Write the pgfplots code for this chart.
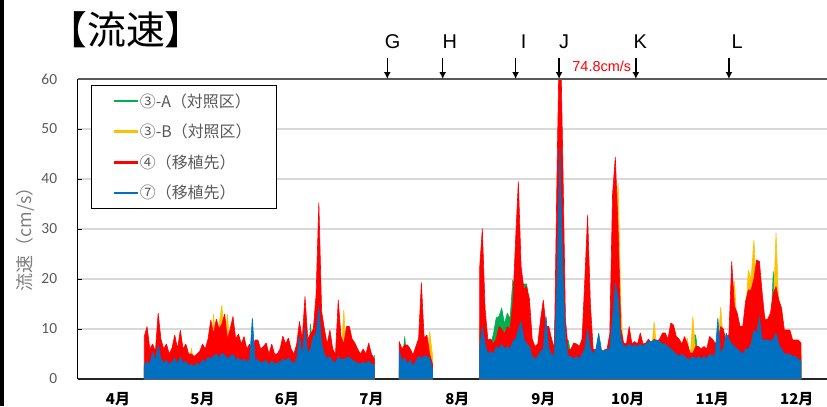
\documentclass[border=0pt]{standalone}
\usepackage{fontspec}
\setmainfont{Carlito}
\newfontfamily\cjk{Noto Sans CJK JP}
\newfontfamily\arial{Liberation Sans}
\usepackage{pgfplots}
\pgfplotsset{compat=1.18}
\usepackage{pgfplotstable}
\usetikzlibrary{arrows.meta}

\definecolor{cA}{HTML}{00B050}
\definecolor{cB}{HTML}{FFC000}
\definecolor{cR}{HTML}{FF0000}
\definecolor{cS}{HTML}{0070C0}
\definecolor{c59}{HTML}{595959}
\definecolor{c80}{HTML}{7F7F7F}
\definecolor{cgrid}{HTML}{D9D9D9}

% d = days from 1 April; A = 3-A, B = 3-B, R = 4, S = 7 (cm/s, daily peak)
\pgfplotstableread{
d A B R S
24 2.1 3.0 8.5 2.8
25 2.5 3.5 10.5 3.5
26 1.8 2.6 6.0 3.0
27 2.4 3.2 7.0 5.5
28 2.0 2.8 5.5 3.6
29 3.0 4.0 13.2 6.8
30 2.2 3.1 8.0 4.0
31 1.7 2.4 6.0 3.2
32 2.0 2.9 7.0 3.8
33 1.6 2.2 5.0 2.9
34 1.9 2.7 6.2 3.4
35 2.6 3.5 8.8 4.2
36 1.8 2.5 6.0 3.0
37 2.5 3.4 9.8 4.5
38 1.9 2.6 6.0 3.1
39 2.1 3.0 7.0 3.6
40 1.5 2.4 5.0 2.7
41 1.8 6.2 5.0 3.0
42 1.4 2.6 4.5 2.5
43 1.6 3.0 5.0 3.2
44 1.7 3.1 5.5 2.8
45 2.0 3.5 7.0 3.9
46 1.8 3.2 6.0 3.3
47 2.2 4.0 8.0 4.4
48 2.8 5.0 11.8 4.0
49 2.6 13.0 9.0 4.6
50 2.9 6.0 12.0 5.0
51 2.5 11.0 10.0 4.2
52 2.7 14.8 11.0 5.2
53 3.0 7.0 13.0 4.8
54 2.3 13.0 8.0 4.0
55 2.5 6.0 10.0 4.5
56 2.8 5.5 12.5 5.0
57 2.2 4.0 8.0 3.8
58 2.4 4.2 9.0 4.2
59 2.0 3.5 7.0 3.6
60 2.3 4.0 8.5 4.0
61 1.9 3.0 6.0 3.4
62 2.0 3.4 7.0 3.8
63 1.8 3.0 6.0 12.2
64 2.1 3.5 7.8 3.6
65 2.2 3.6 7.8 3.9
66 1.8 3.0 6.0 3.2
67 1.9 3.1 6.5 3.5
68 2.0 3.3 7.2 3.7
69 1.5 2.5 5.0 2.8
70 2.0 3.2 7.0 3.6
71 1.6 2.6 5.0 3.0
72 1.6 2.6 5.0 3.2
73 1.8 2.9 6.0 3.4
74 2.3 3.5 8.6 4.0
75 2.0 3.2 7.0 3.6
76 2.2 3.4 8.2 4.2
77 1.8 3.0 6.0 3.5
78 1.6 2.7 5.0 3.0
79 2.0 3.2 7.0 4.0
80 3.0 4.5 11.5 8.6
81 2.4 3.8 8.0 4.6
82 4.0 6.0 16.5 10.2
83 2.6 4.0 8.0 5.0
84 11.0 5.0 9.0 6.0
85 3.0 5.5 10.0 8.5
86 4.5 7.0 16.8 9.0
87 9.0 28.5 35.3 14.5
88 3.5 6.0 13.5 7.0
89 2.8 4.5 10.0 5.0
90 2.0 3.5 7.0 4.0
91 2.6 4.0 9.8 4.5
92 1.8 3.0 6.0 3.5
93 1.6 2.7 5.0 3.2
94 3.0 5.0 15.8 4.5
95 2.4 3.8 8.5 3.8
96 2.2 13.8 7.0 4.0
97 2.8 4.5 10.5 4.2
98 2.8 4.5 10.5 4.4
99 2.3 3.5 8.0 3.8
100 2.0 3.2 7.2 3.5
101 1.8 2.8 6.0 3.2
102 1.6 2.5 5.0 3.0
103 1.8 2.8 6.0 3.4
104 1.5 2.4 5.0 3.0
105 2.1 3.4 7.2 3.6
106 1.6 2.5 5.0 3.0
107 4.8 3.0 4.0 2.8
116 2.0 3.0 7.5 5.8
117 2.5 3.2 6.0 3.5
118 8.5 3.5 6.8 4.2
119 2.2 3.0 6.8 3.0
120 2.0 2.8 6.0 3.8
121 1.8 2.5 4.8 2.6
122 2.1 3.0 6.5 3.5
123 2.5 3.5 8.1 4.6
124 3.5 6.0 19.3 4.0
125 2.6 3.8 8.2 4.6
126 2.7 4.0 8.8 4.5
127 2.0 9.5 5.0 4.2
128 1.5 4.8 3.0 1.8
145 8.0 10.0 22.0 6.0
146 12.0 15.0 30.1 10.5
147 8.0 9.0 14.0 7.0
148 6.0 5.0 7.8 5.0
149 7.0 5.5 8.0 5.5
150 9.0 5.0 7.0 5.0
151 12.2 6.0 8.0 6.5
152 12.5 7.0 10.5 6.0
153 14.2 7.5 10.0 7.0
154 11.0 6.5 9.0 6.0
155 13.2 7.0 10.5 6.5
156 12.0 7.0 10.0 6.0
157 19.8 10.0 15.0 7.5
158 18.0 16.0 27.8 8.0
159 20.0 22.0 39.5 9.8
160 19.0 14.0 22.5 11.5
161 19.0 12.0 18.0 8.0
162 19.0 12.0 18.5 7.0
163 14.0 10.0 16.0 6.5
164 6.0 5.0 8.0 4.5
165 4.5 4.0 6.5 4.0
166 5.0 4.5 7.0 4.5
167 7.0 7.0 11.8 5.5
168 8.0 9.0 15.8 6.0
169 6.5 7.0 10.5 12.5
170 6.0 6.5 10.5 6.0
171 5.0 5.5 8.0 5.0
172 4.0 4.5 6.2 4.5
173 30.0 28.0 42.8 20.0
174 51.0 49.8 74.8 46.2
175 30.0 35.0 45.2 22.0
176 7.8 6.0 12.0 8.0
177 7.8 4.5 5.8 4.5
178 5.0 4.0 6.0 4.5
179 4.5 4.5 7.2 4.0
180 4.5 4.5 7.0 4.5
181 4.0 4.0 6.5 4.0
182 5.0 5.0 8.0 5.0
183 12.0 14.0 20.0 6.0
184 20.0 24.8 32.8 10.0
185 9.0 10.0 15.0 6.0
186 4.0 4.0 6.0 5.0
187 4.0 4.0 5.8 6.0
188 4.5 4.5 7.0 9.2
189 3.5 3.5 5.0 5.8
190 4.0 4.0 5.8 5.5
191 4.0 4.0 6.0 6.0
192 6.0 6.0 9.0 6.0
193 27.0 25.0 37.0 12.0
194 27.0 30.0 44.4 19.2
195 20.0 39.2 30.0 16.0
196 7.0 14.5 10.0 8.0
197 4.5 5.0 7.2 6.5
198 4.5 5.0 7.0 6.5
199 6.0 7.0 10.5 7.0
200 4.5 5.0 7.0 6.5
201 4.5 5.5 7.5 6.8
202 4.5 5.0 7.0 6.5
203 5.5 6.5 9.2 7.0
204 4.5 5.0 7.0 6.5
205 4.5 5.5 7.2 7.0
206 5.0 6.0 8.0 7.5
207 4.5 5.0 7.0 7.5
208 5.0 11.5 8.0 7.8
209 4.5 5.5 7.5 7.8
210 5.0 6.0 8.0 7.5
211 5.5 7.0 9.2 7.0
212 5.5 7.0 9.2 7.0
213 5.0 6.0 8.0 6.5
214 6.5 8.0 11.2 6.0
215 6.5 7.5 10.8 5.5
216 5.0 6.0 8.5 5.0
217 5.0 6.0 8.0 4.5
218 4.5 5.0 7.0 5.0
219 5.0 6.0 8.5 4.5
220 4.5 8.2 7.0 4.0
221 3.5 4.0 5.2 4.0
222 8.8 12.5 5.2 4.5
223 8.8 5.0 6.5 4.0
224 4.0 5.0 6.5 4.5
225 4.0 4.5 6.0 4.0
226 4.0 5.0 6.5 4.5
227 4.0 4.5 6.0 4.0
228 5.0 6.0 8.5 5.0
229 5.0 6.0 8.0 4.5
230 4.5 5.5 7.2 5.0
231 4.5 5.5 7.2 12.2
232 6.5 14.4 10.5 5.0
233 6.0 7.5 10.0 6.0
234 4.5 5.5 7.2 9.2
235 5.5 6.5 9.0 8.0
236 12.0 16.0 23.5 7.0
237 9.0 19.5 14.5 6.5
238 8.0 10.0 13.2 6.0
239 6.5 8.0 10.5 5.5
240 6.5 8.0 10.5 5.0
241 9.0 12.0 15.5 6.0
242 10.0 21.8 17.8 6.0
243 10.0 20.0 17.8 7.0
244 12.0 27.8 20.0 9.8
245 13.0 18.0 23.8 9.0
246 13.0 17.0 23.5 12.5
247 10.0 13.0 17.2 7.8
248 7.0 12.5 11.8 7.8
249 7.0 9.0 12.0 7.8
250 8.0 10.0 13.2 7.5
251 21.5 14.0 17.2 8.0
252 11.0 29.2 18.5 9.2
253 9.0 14.2 15.8 7.0
254 8.0 10.0 14.2 6.0
255 6.0 7.0 9.8 5.0
256 6.0 7.0 9.8 5.0
257 6.0 7.0 9.8 5.0
258 5.0 5.5 7.8 4.5
259 6.5 5.5 7.8 4.5
260 5.0 5.5 7.8 4.0
261 4.5 5.0 7.2 3.5
}\flow

\pgfplotsset{
  flowarea/.style={sharp plot, draw=#1, fill=#1, line width=0.6bp, line join=bevel, forget plot},
  seg1/.style={restrict x to domain=20:110},
  seg2/.style={restrict x to domain=112:135},
  seg3/.style={restrict x to domain=140:265},
}

\begin{document}
\begin{tikzpicture}[x=1bp,y=1bp]
\path[use as bounding box] (0,0) rectangle (827,406);
\fill[black] (0,0) rectangle (3.5,406);
\node[font=\cjk\fontsize{39}{44}\selectfont] at (126,376) {【流速】};

\begin{axis}[
  at={(77.8bp,27bp)}, anchor=south west,
  scale only axis, width=749.2bp, height=300bp,
  xmin=0, xmax=270.4, ymin=0, ymax=60,
  axis x line*=bottom, axis y line*=left,
  axis line style={-, line width=1.3bp},
  x axis line style={color=black!85},
  clip mode=individual,
  ytick={0,10,...,60},
  ymajorgrids, grid style={color=cgrid, line width=1.3bp},
  xtick={14.5,45,75.5,106,137,168,198.5,229,259.5},
  xticklabels={4月,5月,6月,7月,8月,9月,10月,11月,12月},
  xtick style={draw=none},
  xticklabel style={font=\cjk\bfseries\fontsize{15}{17}\selectfont, anchor=base, inner sep=0pt, yshift=-25bp},
  tick align=inside, major tick length=4bp,
  ytick style={color=black, line width=0.8bp},
  /pgf/number format/assume math mode=true,
  yticklabel style={font=\fontsize{15.5}{18}\selectfont, text=c59, anchor=east, inner sep=0pt, xshift=-20.5bp},
  ylabel={流速（cm/s）},
  ylabel style={font=\cjk\fontsize{18}{20}\selectfont, text=c80, at={(axis description cs:-0.0705,0.48)}, anchor=center},
  legend style={at={(0.0172,0.98)}, anchor=north west, draw=black, line width=0.8bp, fill=white,
    inner xsep=23bp, inner ysep=6bp, row sep=11.5bp,
    font=\cjk\fontsize{16}{18}\selectfont, text=c59},
  legend cell align=left,
]
\addplot[flowarea=cA, seg1] table[x=d, y=A] {\flow} \closedcycle;
\addplot[flowarea=cA, seg2] table[x=d, y=A] {\flow} \closedcycle;
\addplot[flowarea=cA, seg3] table[x=d, y=A] {\flow} \closedcycle;
\addplot[flowarea=cB, seg1] table[x=d, y=B] {\flow} \closedcycle;
\addplot[flowarea=cB, seg2] table[x=d, y=B] {\flow} \closedcycle;
\addplot[flowarea=cB, seg3] table[x=d, y=B] {\flow} \closedcycle;
\addplot[flowarea=cR, seg1] table[x=d, y=R] {\flow} \closedcycle;
\addplot[flowarea=cR, seg2] table[x=d, y=R] {\flow} \closedcycle;
\addplot[flowarea=cR, seg3] table[x=d, y=R] {\flow} \closedcycle;
\addplot[flowarea=cS, seg1] table[x=d, y=S] {\flow} \closedcycle;
\addplot[flowarea=cS, seg2] table[x=d, y=S] {\flow} \closedcycle;
\addplot[flowarea=cS, seg3] table[x=d, y=S] {\flow} \closedcycle;

\addlegendimage{legend image code/.code={\fill[cA] (0bp,-0.9bp) rectangle (23bp,0.9bp);}}
\addlegendentry{③-A（対照区）}
\addlegendimage{legend image code/.code={\fill[cB] (0bp,-0.9bp) rectangle (23bp,0.9bp);}}
\addlegendentry{③-B（対照区）}
\addlegendimage{legend image code/.code={\fill[cR] (0bp,-0.9bp) rectangle (23bp,0.9bp);}}
\addlegendentry{④（移植先）}
\addlegendimage{legend image code/.code={\fill[cS] (0bp,-0.9bp) rectangle (23bp,0.9bp);}}
\addlegendentry{⑦（移植先）}

\draw[color=c59, line width=1.3bp] (rel axis cs:0,1) -- (rel axis cs:1,1);

\draw[line width=1.5bp, -{Latex[length=7bp,width=7bp]}] (axis cs:111.7,64.2) -- (axis cs:111.7,60);
\draw[line width=1.5bp, -{Latex[length=7bp,width=7bp]}] (axis cs:131.7,64.2) -- (axis cs:131.7,60);
\draw[line width=1.5bp, -{Latex[length=7bp,width=7bp]}] (axis cs:158.0,64.2) -- (axis cs:158.0,60);
\draw[line width=1.5bp, -{Latex[length=7bp,width=7bp]}] (axis cs:173.7,64.2) -- (axis cs:173.7,60);
\draw[line width=1.5bp, -{Latex[length=7bp,width=7bp]}] (axis cs:201.4,64.2) -- (axis cs:201.4,60);
\draw[line width=1.5bp, -{Latex[length=7bp,width=7bp]}] (axis cs:235.0,64.2) -- (axis cs:235.0,60);
\node[font=\arial\fontsize{20}{22}\selectfont] at (axis cs:113.6,67.4) {G};
\node[font=\arial\fontsize{20}{22}\selectfont] at (axis cs:134.3,67.4) {H};
\node[font=\arial\fontsize{20}{22}\selectfont] at (axis cs:160.9,67.4) {I};
\node[font=\arial\fontsize{20}{22}\selectfont] at (axis cs:175.5,67.4) {J};
\node[font=\arial\fontsize{20}{22}\selectfont] at (axis cs:203.0,67.4) {K};
\node[font=\arial\fontsize{20}{22}\selectfont] at (axis cs:238.0,67.4) {L};
\node[font=\arial\fontsize{14.5}{16}\selectfont, text=cR] at (axis cs:189.1,62.6) {74.8cm/s};
\end{axis}
\end{tikzpicture}
\end{document}
